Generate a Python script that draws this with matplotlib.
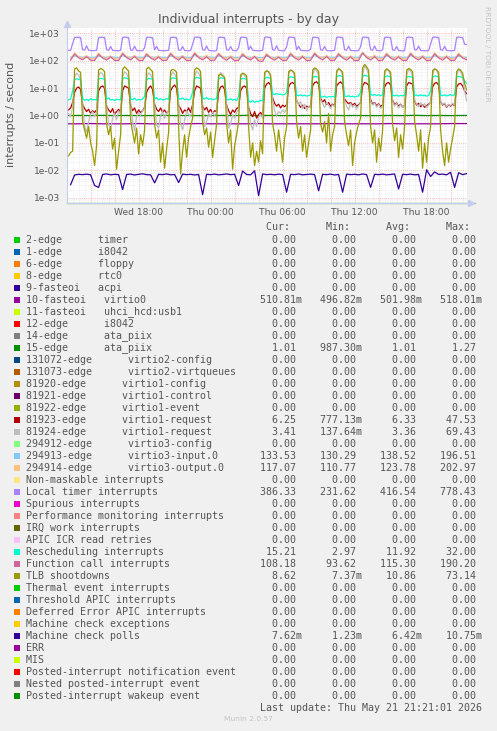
import numpy as np
import pandas as pd
import matplotlib
matplotlib.use('Agg')
import matplotlib.pyplot as plt
import matplotlib.dates as mdates
from matplotlib.patches import Rectangle
from matplotlib.ticker import FixedLocator, FixedFormatter, LogLocator, NullFormatter, FuncFormatter

W, H = 497, 731

t10 = pd.date_range('2026-05-20 12:10', periods=200, freq='10min')
t20 = pd.date_range('2026-05-20 12:20', periods=100, freq='20min')
t60 = pd.date_range('2026-05-20 12:00', periods=35, freq='60min')

# Local timer interrupts (10 min)
loc_vals = [240, 238, 420, 700, 720, 710, 690, 250, 245, 350,
            240, 235, 232, 236, 240, 690, 715, 705, 700, 250,
            240, 330, 238, 235, 233, 230, 240, 700, 725, 710,
            695, 245, 240, 340, 236, 232, 234, 230, 300, 705,
            720, 700, 690, 248, 335, 240, 235, 233, 231, 236,
            240, 695, 720, 705, 690, 245, 240, 330, 236, 232,
            230, 234, 400, 710, 730, 710, 700, 250, 240, 345,
            238, 233, 230, 226, 236, 700, 720, 705, 690, 250,
            242, 330, 238, 234, 232, 300, 700, 725, 710, 695,
            248, 340, 240, 236, 233, 231, 235, 238, 700, 730,
            715, 700, 250, 240, 350, 238, 233, 230, 232, 320,
            705, 725, 710, 695, 248, 335, 240, 236, 232, 230,
            233, 260, 700, 720, 705, 690, 250, 240, 330, 236,
            232, 230, 234, 238, 705, 730, 710, 700, 250, 240,
            340, 238, 234, 232, 230, 234, 330, 700, 725, 710,
            695, 250, 240, 345, 238, 233, 230, 250, 700, 720,
            710, 690, 248, 240, 330, 236, 232, 230, 233, 690,
            725, 715, 700, 250, 245, 340, 238, 234, 231, 230,
            235, 400, 705, 730, 710, 700, 250, 240, 335, 238,
            233, 230, 232, 236, 700, 720, 710, 700, 400, 386]

# Rescheduling interrupts (10 min)
res_vals = [3.8, 4.0, 8,
            20, 22, 21, 20, 4.2, 3.6, 3.9, 3.5, 4.1, 3.7, 3.9, 3.6,
            21, 23, 22, 21, 4.0, 4.4, 3.7, 3.9, 3.5, 4.0, 3.8, 3.7,
            22, 24, 23, 21, 4.1, 3.8, 4.3, 3.6, 3.9, 3.7, 4.0, 5,
            20, 23, 22, 21, 4.0, 4.5, 3.8, 4.1, 3.7, 3.9, 4.2, 3.8,
            21, 24, 23, 22, 4.2, 3.9, 4.4, 3.8, 4.0, 3.7, 4.1, 7,
            22, 25, 24, 22, 4.3, 4.0, 4.5, 3.9, 4.2, 3.8, 4.0, 4.1,
            21, 24, 23, 22, 4.0, 3.7, 4.1, 3.6, 3.9, 3.5, 5,
            20, 23, 22, 21, 3.4, 3.1, 3.5, 3.0, 3.3, 3.2, 3.6, 3.4,
            22, 25, 24, 23, 6.2, 5.8, 6.4, 5.9, 6.0, 5.6, 5.9, 7,
            23, 26, 25, 24, 5.6, 5.3, 5.7, 5.2, 5.5, 5.1, 5.4, 5.6,
            24, 27, 26, 25, 5.0, 4.7, 5.1, 4.6, 4.9, 4.8, 5.0, 4.7,
            25, 29, 28, 26, 5.2, 4.9, 5.3, 4.8, 5.1, 4.7, 5.0, 5.2, 7,
            26, 30, 28, 27, 5.8, 5.5, 5.9, 5.4, 5.7, 5.3, 5.6,
            25, 28, 27, 26, 5.5, 5.2, 5.6, 5.1, 5.4, 5.3, 5.5,
            24, 27, 26, 25, 5.4, 5.6, 5.2, 5.7, 5.3, 5.5, 5.1, 5.4, 8,
            25, 28, 27, 26, 5.6, 5.3, 5.7, 5.2, 5.5, 5.8, 5.4, 5.6,
            25, 27, 26, 24, 18, 15.2]

# 81923-edge virtio1-request (10 min)
v23_vals = [1.6, 1.9, 3,
            7, 10, 11, 9, 2.5, 1.8, 1.4, 1.7, 1.2, 1.5, 1.3, 1.6,
            8, 11, 12, 10, 2.2, 1.6, 1.3, 1.8, 1.1, 1.4, 1.7, 1.3,
            8, 12, 11, 10, 2.4, 1.5, 1.9, 1.2, 1.6, 1.3, 1.5, 2.0,
            7, 10, 12, 9, 2.6, 1.7, 1.4, 1.9, 1.3, 1.6, 1.2, 1.5,
            8, 11, 13, 10, 2.3, 1.8, 1.2, 1.6, 1.4, 1.9, 1.3, 2.5,
            8, 12, 11, 10, 2.2, 1.6, 2.0, 1.3, 1.7, 1.2, 1.5, 1.4,
            7, 11, 12, 9, 2.4, 1.5, 1.1, 1.6, 1.3, 1.8, 2.0,
            8, 11, 12, 10, 2.0, 1.2, 0.9, 1.4, 0.8, 1.1, 1.3, 1.0,
            10, 14, 16, 13, 4.5, 2.8, 2.2, 2.6, 1.9, 2.4, 2.1, 2.5,
            11, 15, 16, 14, 3.5, 2.6, 2.0, 2.4, 1.8, 2.2, 2.0, 2.3,
            12, 16, 17, 14, 4.2, 3.1, 3.8, 2.5, 3.0, 2.2, 2.6, 2.4,
            12, 15, 17, 14, 4.0, 3.2, 2.7, 3.0, 2.4, 2.8, 2.2, 2.5, 3,
            12, 16, 15, 13, 3.8, 2.6, 3.0, 2.3, 2.7, 2.1, 2.5,
            11, 15, 16, 13, 3.6, 2.5, 2.9, 2.2, 2.6, 2.0, 2.4,
            12, 16, 15, 14, 3.4, 2.4, 2.8, 2.1, 2.5, 2.0, 2.3, 2.6, 3,
            11, 15, 16, 13, 3.2, 2.4, 2.7, 2.0, 2.5, 2.2, 2.6, 2.3,
            11, 14, 15, 12, 8, 6.25]

# 81924-edge virtio1-request (10 min)
v24_vals = [1.2, 0.9, 2,
            25, 35, 30, 20, 3.0, 0.4, 0.25, 0.6, 1.1, 1.4, 0.9, 1.3,
            28, 38, 32, 22, 2.5, 0.5, 0.3, 0.8, 1.2, 0.7, 1.5, 1.1,
            26, 40, 34, 24, 3.2, 0.6, 0.28, 0.9, 1.3, 1.0, 1.6, 1.8,
            24, 36, 31, 21, 2.8, 0.45, 0.35, 1.0, 1.4, 0.8, 1.2, 1.5,
            27, 39, 33, 23, 3.0, 0.5, 0.3, 0.7, 1.5, 1.1, 0.9, 2,
            26, 42, 35, 25, 2.6, 0.4, 0.6, 1.2, 0.9, 1.4, 1.0, 1.3,
            25, 37, 32, 22, 2.9, 0.35, 0.5, 1.1, 0.8, 1.3, 1.6,
            24, 35, 30, 20, 2.0, 0.5, 0.3, 0.7, 0.4, 0.9, 1.1, 0.8,
            28, 45, 38, 26, 4.0, 1.5, 1.0, 1.4, 1.2, 1.6, 1.3, 1.8,
            30, 48, 40, 28, 3.5, 2.5, 3.2, 1.8, 2.6, 1.5, 2.2, 1.9,
            30, 50, 42, 30, 3.8, 2.8, 2.0, 3.0, 2.4, 1.8, 2.5, 2.1,
            32, 55, 45, 30, 3.6, 2.2, 1.6, 2.8, 2.0, 2.5, 1.7, 2.3, 3,
            30, 69, 48, 32, 3.3, 2.4, 2.9, 2.0, 2.6, 1.8, 2.2,
            30, 50, 44, 28, 3.4, 2.2, 2.8, 1.9, 2.5, 2.0, 2.4,
            29, 48, 42, 27, 3.5, 2.6, 2.1, 2.9, 2.3, 2.7, 2.0, 2.4, 3,
            30, 52, 45, 29, 3.3, 2.5, 2.9, 2.1, 2.6, 2.3, 2.8, 2.4,
            28, 48, 40, 25, 8, 3.41]

# TLB shootdowns (10 min)
tlb_vals = [0.034, 0.045, 0.05,
            50, 55, 42, 38, 0.6, 0.3, 0.15, 0.4, 0.1, 0.05, 0.015, 0.08,
            45, 52, 48, 40, 0.5, 0.2, 0.4, 0.06, 0.15, 0.011, 0.05, 0.2,
            48, 60, 50, 42, 0.7, 0.25, 0.1, 0.35, 0.04, 0.2, 0.08, 0.3,
            50, 58, 47, 40, 0.5, 0.15, 0.3, 0.02, 0.1, 0.012, 0.06, 0.25,
            42, 48, 45, 38, 0.4, 0.0074, 0.05, 0.2, 0.03, 0.15, 0.4, 0.8,
            46, 55, 50, 40, 0.6, 0.2, 0.35, 0.07, 0.25, 0.03, 0.12, 0.5,
            30, 32, 28, 25, 0.5, 0.1, 0.3, 0.011, 0.08, 0.2, 0.6,
            30, 35, 33, 28, 0.4, 0.03, 0.1, 0.015, 0.05, 0.02, 0.12, 0.04,
            38, 42, 40, 30, 0.5, 0.2, 0.05, 0.3, 0.08, 0.02, 0.15, 0.4,
            40, 45, 42, 35, 0.6, 0.15, 0.4, 0.05, 0.2, 0.03, 0.1, 0.3,
            45, 55, 50, 40, 0.5, 0.25, 0.6, 0.1, 1.2, 0.05, 0.2, 0.4,
            42, 50, 46, 38, 0.6, 0.2, 0.08, 0.3, 0.015, 0.1, 0.25, 0.5, 0.8,
            55, 73, 60, 45, 0.4, 0.1, 0.3, 0.02, 0.15, 0.05, 0.3,
            42, 50, 45, 38, 0.5, 0.12, 0.35, 0.03, 0.2, 0.06, 0.4,
            45, 52, 48, 40, 0.6, 0.2, 0.05, 0.3, 0.012, 0.1, 0.02, 0.15, 0.4,
            44, 50, 46, 38, 0.3, 0.05, 0.015, 0.1, 0.02, 0.06, 0.15, 0.4,
            40, 50, 46, 35, 15, 8.62]

# Function call interrupts (20 min)
cal_vals = [105,
            175, 128, 108, 140, 104, 102, 170, 125, 106, 138, 103, 101,
            180, 130, 107, 142, 103, 100, 172, 126, 105, 136, 102, 104,
            178, 128, 106, 140, 101, 103, 185, 130, 107, 138, 102, 105,
            175, 127, 104, 135, 100, 103, 170, 125, 106, 140, 98, 95,
            165, 124, 105, 134, 102, 104, 176, 128, 106, 139, 101, 103,
            182, 130, 107, 141, 102, 104, 174, 127, 105, 137, 100, 103,
            190, 130, 106, 140, 101, 104, 172, 126, 105, 136, 102, 103,
            178, 128, 106, 139, 101, 104, 176, 127, 105, 138, 102, 104,
            170, 125, 108]

# 294914-edge virtio3-output.0 (20 min)
out0_vals = [118,
             192, 140, 121, 152, 118, 116, 188, 138, 120, 150, 117, 115,
             196, 142, 122, 156, 119, 117, 185, 137, 119, 148, 116, 118,
             194, 141, 121, 153, 118, 116, 200, 143, 122, 157, 119, 117,
             190, 139, 120, 151, 117, 115, 186, 137, 119, 149, 112, 111,
             182, 136, 118, 147, 116, 117, 193, 141, 121, 154, 118, 116,
             198, 143, 122, 156, 119, 117, 189, 139, 120, 150, 117, 116,
             203, 145, 123, 158, 119, 117, 188, 138, 120, 150, 117, 116,
             194, 141, 121, 153, 118, 117, 191, 140, 120, 152, 118, 116,
             187, 138, 117]

# 294913-edge virtio3-input.0 (20 min)
in0_vals = [134,
            150, 137, 134, 140, 133, 133, 148, 136, 134, 139, 133, 132,
            152, 138, 135, 141, 134, 133, 147, 136, 134, 139, 133, 133,
            150, 137, 134, 140, 133, 132, 155, 138, 135, 142, 134, 133,
            149, 137, 134, 140, 133, 132, 146, 136, 133, 139, 131, 130,
            145, 135, 133, 138, 133, 134, 151, 137, 134, 140, 133, 133,
            153, 138, 135, 141, 134, 133, 148, 136, 134, 139, 133, 133,
            196, 140, 135, 143, 134, 133, 149, 137, 134, 140, 133, 133,
            152, 138, 134, 141, 133, 134, 150, 137, 134, 140, 133, 133,
            148, 136, 133.5]

# Machine check polls (20 min)
mcp_vals = [0.0030, 0.0068, 0.0072, 0.0070, 0.0073, 0.0069, 0.0028, 0.0024, 0.0071, 0.0074,
            0.0069, 0.0072, 0.0070, 0.0020, 0.0071, 0.0073, 0.0068, 0.0072, 0.0075, 0.0070,
            0.0069, 0.0035, 0.0072, 0.0070, 0.0074, 0.0069, 0.0071, 0.0036, 0.0073, 0.0070,
            0.0072, 0.0068, 0.0071, 0.0013, 0.0072, 0.0070, 0.0073, 0.0069, 0.0071, 0.0074,
            0.0070, 0.0072, 0.0028, 0.0095, 0.0071, 0.0069, 0.0097, 0.0012, 0.0074, 0.0070,
            0.0072, 0.0069, 0.0073, 0.0070, 0.0016, 0.0072, 0.0070, 0.0074, 0.0069, 0.0071,
            0.0073, 0.0070, 0.0018, 0.0072, 0.0070, 0.0073, 0.0068, 0.0071, 0.0016, 0.0073,
            0.0070, 0.0072, 0.0069, 0.0074, 0.0070, 0.0024, 0.0072, 0.0070, 0.0073, 0.0069,
            0.0071, 0.0074, 0.0021, 0.0072, 0.0070, 0.0073, 0.0069, 0.0071, 0.0016, 0.0105,
            0.0060, 0.0088, 0.0071, 0.0073, 0.0069, 0.0085, 0.0024, 0.0082, 0.0070, 0.0076]

# flat ones (hourly)
virtio0_vals = [0.50, 0.50, 0.51, 0.50, 0.50, 0.50, 0.51, 0.50, 0.50, 0.50,
                0.50, 0.51, 0.50, 0.50, 0.50, 0.50, 0.51, 0.50, 0.50, 0.50,
                0.50, 0.50, 0.51, 0.50, 0.50, 0.50, 0.50, 0.51, 0.50, 0.50,
                0.50, 0.50, 0.51, 0.51, 0.51]
ata15_vals = [1.00, 1.01, 1.00, 1.02, 1.00, 1.01, 1.00, 1.00, 1.02, 1.00,
              1.01, 1.00, 1.00, 1.01, 1.00, 1.02, 1.00, 1.01, 1.00, 1.00,
              1.01, 1.00, 1.02, 1.00, 1.01, 1.00, 1.00, 1.01, 1.00, 1.02,
              1.00, 1.01, 1.00, 1.01, 1.01]
zero_vals = [0.0] * len(t60)

for v in (loc_vals, res_vals, v23_vals, v24_vals, tlb_vals):
    assert len(v) == 200, len(v)
for v in (cal_vals, out0_vals, in0_vals, mcp_vals):
    assert len(v) == 100, len(v)

# legend table
labels = ['2-edge      timer', '1-edge      i8042', '6-edge      floppy', '8-edge      rtc0',
          '9-fasteoi   acpi', '10-fasteoi   virtio0', '11-fasteoi   uhci_hcd:usb1',
          '12-edge      i8042', '14-edge      ata_piix', '15-edge      ata_piix',
          '131072-edge      virtio2-config', '131073-edge      virtio2-virtqueues',
          '81920-edge      virtio1-config', '81921-edge      virtio1-control',
          '81922-edge      virtio1-event', '81923-edge      virtio1-request',
          '81924-edge      virtio1-request', '294912-edge      virtio3-config',
          '294913-edge      virtio3-input.0', '294914-edge      virtio3-output.0',
          'Non-maskable interrupts', 'Local timer interrupts', 'Spurious interrupts',
          'Performance monitoring interrupts', 'IRQ work interrupts', 'APIC ICR read retries',
          'Rescheduling interrupts', 'Function call interrupts', 'TLB shootdowns',
          'Thermal event interrupts', 'Threshold APIC interrupts', 'Deferred Error APIC interrupts',
          'Machine check exceptions', 'Machine check polls', 'ERR', 'MIS',
          'Posted-interrupt notification event', 'Nested posted-interrupt event',
          'Posted-interrupt wakeup event']
colors = ['#00CC00', '#0066B3', '#FF8000', '#FFCC00', '#330099', '#990099', '#CCFF00', '#FF0000',
          '#808080', '#008F00', '#00487D', '#B35A00', '#B38F00', '#6B006B', '#8FB300', '#B30000',
          '#BEBEBE', '#80FF80', '#80C9FF', '#FFC080', '#FFE680', '#AA80FF', '#EE00CC', '#FF8080',
          '#666600', '#FFBFFF', '#00FFCC', '#CC6699', '#999900', '#00CC00', '#0066B3', '#FF8000',
          '#FFCC00', '#330099', '#990099', '#CCFF00', '#FF0000', '#808080', '#008F00']
cur = [0, 0, 0, 0, 0, 0.51081, 0, 0, 0, 1.01, 0, 0, 0, 0, 0, 6.25, 3.41, 0, 133.53, 117.07,
       0, 386.33, 0, 0, 0, 0, 15.21, 108.18, 8.62, 0, 0, 0, 0, 0.00762, 0, 0, 0, 0, 0]
mins = [0, 0, 0, 0, 0, 0.49682, 0, 0, 0, 0.9873, 0, 0, 0, 0, 0, 0.77713, 0.13764, 0, 130.29, 110.77,
        0, 231.62, 0, 0, 0, 0, 2.97, 93.62, 0.00737, 0, 0, 0, 0, 0.00123, 0, 0, 0, 0, 0]
avgs = [0, 0, 0, 0, 0, 0.50198, 0, 0, 0, 1.01, 0, 0, 0, 0, 0, 6.33, 3.36, 0, 138.52, 123.78,
        0, 416.54, 0, 0, 0, 0, 11.92, 115.30, 10.86, 0, 0, 0, 0, 0.00642, 0, 0, 0, 0, 0]
maxs = [0, 0, 0, 0, 0, 0.51801, 0, 0, 0, 1.27, 0, 0, 0, 0, 0, 47.53, 69.43, 0, 196.51, 202.97,
        0, 778.43, 0, 0, 0, 0, 32.00, 190.20, 73.14, 0, 0, 0, 0, 0.01075, 0, 0, 0, 0, 0]

ytick_vals = [1e-3, 1e-2, 1e-1, 1e0, 1e1, 1e2, 1e3]
ytick_labels = ['1e-03', '1e-02', '1e-01', '1e+00', '1e+01', '1e+02', '1e+03']

TXT = '#555555'
MONO = 'DejaVu Sans Mono'


def fx(x):
    return x / W


def fy(y):
    return 1 - y / H


def fmt(v):
    if 0 < v < 1:
        return '%6.2fm' % (v * 1000)
    return '%6.2f ' % v


fig = plt.figure(figsize=(W / 100, H / 100), dpi=100, facecolor='#f0f0f0')
ax = fig.add_axes([fx(67), fy(203.5), 400 / W, 175.5 / H], facecolor='white')

ymin, ymax = 6.2e-4, 1560
ax.set_yscale('log')
ax.set_ylim(ymin, ymax)
ax.set_xlim(pd.Timestamp('2026-05-20 12:02'), pd.Timestamp('2026-05-21 21:22'))

lw = 0.9
ax.plot(t60, np.maximum(zero_vals, ymin), color='#8fcf8f', lw=1.0, clip_on=False, zorder=2)
ax.plot(t60, virtio0_vals, color='#990099', lw=lw)
ax.plot(t60, ata15_vals, color='#008F00', lw=lw)
ax.plot(t10, v23_vals, color='#B30000', lw=lw)
ax.plot(t10, v24_vals, color='#BEBEBE', lw=lw)
ax.plot(t20, in0_vals, color='#80C9FF', lw=lw)
ax.plot(t20, out0_vals, color='#FFC080', lw=lw)
ax.plot(t10, loc_vals, color='#AA80FF', lw=lw)
ax.plot(t10, res_vals, color='#00FFCC', lw=lw)
ax.plot(t20, cal_vals, color='#CC6699', lw=lw)
ax.plot(t10, tlb_vals, color='#999900', lw=lw)
ax.plot(t20, mcp_vals, color='#330099', lw=lw)

# grid like rrdtool
ax.yaxis.set_major_locator(FixedLocator(ytick_vals))
ax.yaxis.set_major_formatter(FixedFormatter(ytick_labels))
ax.yaxis.set_minor_locator(LogLocator(base=10, subs=range(2, 10), numticks=20))
ax.yaxis.set_minor_formatter(NullFormatter())
ax.xaxis.set_major_locator(mdates.HourLocator(byhour=range(0, 24, 2)))
ax.xaxis.set_minor_locator(mdates.MinuteLocator(byminute=[0, 30]))


def xlab(x, pos):
    d = mdates.num2date(x)
    return d.strftime('%a %H:%M') if d.hour % 6 == 0 else ''


ax.xaxis.set_major_formatter(FuncFormatter(xlab))
ax.set_axisbelow(True)
ax.grid(which='minor', color='#e2e2e2', linestyle=(0, (1, 1.5)), linewidth=0.5)
ax.grid(which='major', color='#f2a8a8', linestyle=(0, (1, 1.5)), linewidth=0.6)
ax.tick_params(which='both', length=0, labelsize=6.6, labelcolor=TXT)
ax.tick_params(axis='y', pad=5)
ax.tick_params(axis='x', pad=3.5)

for s in ('top', 'right'):
    ax.spines[s].set_visible(False)
for s in ('left', 'bottom'):
    ax.spines[s].set_color('#c4cced')
    ax.spines[s].set_linewidth(0.8)
ax.plot([0], [1 + 4 / 175], marker='^', ms=4, color='#c4cced', transform=ax.transAxes, clip_on=False)
ax.plot([1 + 4 / 400], [0], marker='>', ms=4, color='#c4cced', transform=ax.transAxes, clip_on=False)

# titles
fig.text(fx(248.5), fy(19.3), 'Individual interrupts - by day', ha='center', va='center',
         fontsize=9, color=TXT)
fig.text(fx(11), fy(114), 'interrupts / second', rotation=90, ha='center', va='center',
         fontsize=8, color=TXT)
fig.text(fx(487), fy(54), 'RRDTOOL / TOBI OETIKER', rotation=270, ha='center', va='center',
         fontsize=5.4, color='#c4c4c4')
fig.text(fx(248), fy(719), 'Munin 2.0.57', ha='center', va='center', fontsize=5.4, color='#c4c4c4')

# legend table
x0 = 26.3
fig.text(fx(x0), fy(227.5), ' ' * 40 + 'Cur:      Min:      Avg:      Max:',
         family=MONO, fontsize=7.2, color=TXT, va='center')
for k, (lab, c) in enumerate(zip(labels, colors)):
    yc = 239.7 + 12.0 * k
    fig.patches.append(Rectangle((fx(14), fy(yc + 3)), 6 / W, 6 / H, transform=fig.transFigure,
                                 facecolor=c, edgecolor='none'))
    row = lab.ljust(39) + '   '.join(fmt(v) for v in (cur[k], mins[k], avgs[k], maxs[k]))
    fig.text(fx(x0), fy(yc), row, family=MONO, fontsize=7.2, color=TXT, va='center')
fig.text(fx(x0), fy(707.7), ' ' * 39 + 'Last update: Thu May 21 21:21:01 2026',
         family=MONO, fontsize=7.2, color=TXT, va='center')

fig.savefig('out.png', dpi=100, facecolor=fig.get_facecolor())
